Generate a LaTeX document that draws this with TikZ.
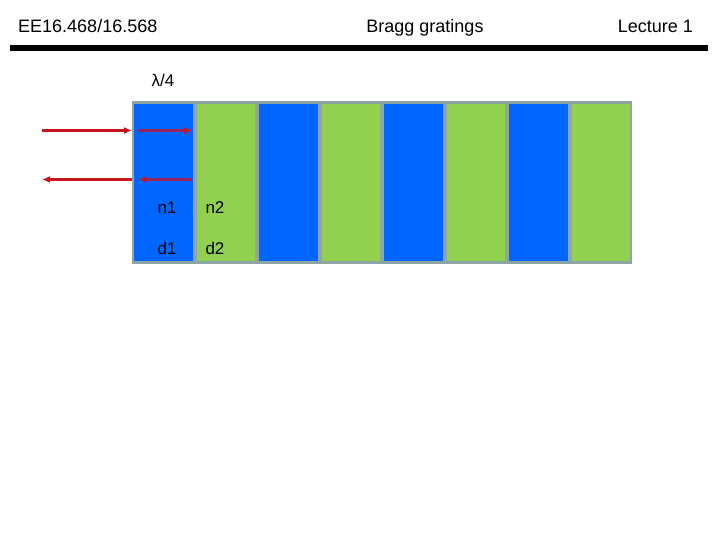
\documentclass[tikz,border=0pt]{standalone}
\usepackage{fontspec}
\setmainfont{Liberation Sans}
\usetikzlibrary{arrows.meta}
\definecolor{layerblue}{HTML}{0066FF}
\definecolor{layergreen}{HTML}{92D050}
\definecolor{framegray}{HTML}{8EA5A5}
\definecolor{rayred}{HTML}{C8141E}
\definecolor{raydark}{HTML}{98245A}
\begin{document}
\begin{tikzpicture}[x=1pt, y=-1pt,
  title/.style={font=\fontsize{18}{20}\selectfont, inner sep=0pt},
  label/.style={font=\fontsize{17}{19}\selectfont, inner sep=0pt},
  layer/.style={draw=none, minimum width=58.5pt, minimum height=157pt, inner sep=0pt},
  ray/.style={-{Latex[length=8pt,width=7pt]}, line width=2.4pt, rayred},
  inray/.style={-{Latex[length=8pt,width=7pt,color=rayred]}, line width=2.4pt, raydark}
]
\useasboundingbox (0,0) rectangle (720,540);

% header
\node[title, anchor=base west] (course) at (18,33) {EE16.468/16.568};
\node[title, anchor=base] (topic) at (425,33) {Bragg gratings};
\node[title, anchor=base east] (lecture) at (693,33) {Lecture 1};
\draw[line width=5.5pt] (10,48) -- (708,48);

% grating
\fill[framegray] (132,101) rectangle (632,264);
\foreach \i in {0,...,7} {
  \pgfmathsetmacro{\xc}{163.25+62.5*\i}
  \ifodd\i
    \node[layer, fill=layergreen] (s\i) at (\xc,182.5) {};
  \else
    \node[layer, fill=layerblue] (s\i) at (\xc,182.5) {};
  \fi
}

\node[label] (quarter) at (163,80) {λ/4};
\node[label] (n1) at (167,208) {n1};
\node[label] (n2) at (215,208) {n2};
\node[label] (d1) at (167,248) {d1};
\node[label] (d2) at (215,248) {d2};

% rays
\coordinate (inA) at (42,130.5);
\coordinate (inB) at (132,130.5);
\coordinate (inC) at (138,130.5);
\coordinate (inD) at (192,130.5);
\coordinate (outA) at (132,179.5);
\coordinate (outB) at (42,179.5);
\coordinate (outC) at (192,179.5);
\coordinate (outD) at (138,179.5);
\draw[ray] (inA) -- (inB);
\draw[inray] (inC) -- (inD);
\draw[ray] (outA) -- (outB);
\draw[inray] (outC) -- (outD);
\end{tikzpicture}
\end{document}
